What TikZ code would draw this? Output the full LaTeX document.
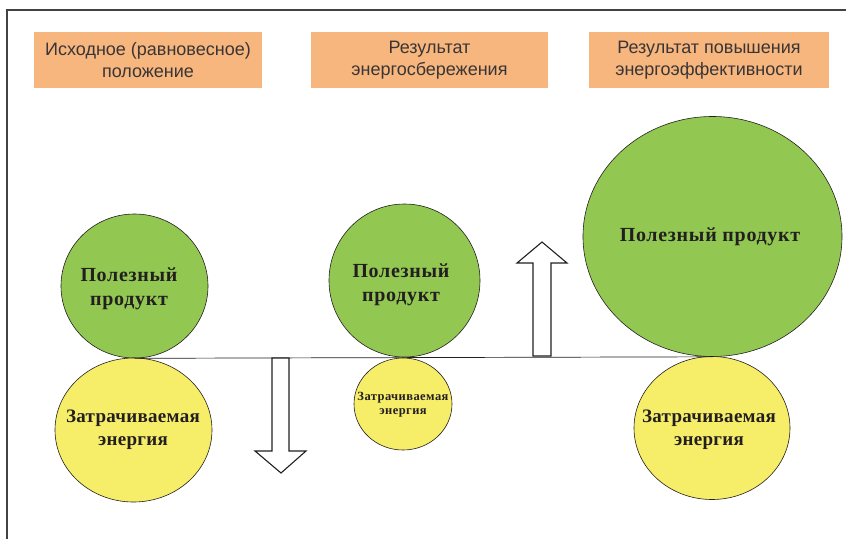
\documentclass[tikz,border=0pt]{standalone}
\usepackage{fontspec}
\setmainfont{Liberation Serif}
\newfontfamily\headfont{Liberation Sans}
\newfontfamily\blobwide[LetterSpace=3.5]{Liberation Serif}
\newfontfamily\blobnarrow[LetterSpace=1.5]{Liberation Serif}
\usetikzlibrary{shapes.geometric}
\definecolor{boxorange}{RGB}{247,182,125}
\definecolor{prodgreen}{RGB}{146,200,82}
\definecolor{enyellow}{RGB}{246,237,104}
\definecolor{inkgray}{RGB}{35,31,32}

\begin{document}
\begin{tikzpicture}[x=1pt, y=-1pt,
	headbox/.style={fill=boxorange, draw=none, minimum width=#1, minimum height=56pt, inner sep=0pt, align=center, text=inkgray!90, font=\headfont\fontsize{18}{22.5}\selectfont},
	blob/.style={ellipse, draw=inkgray, line width=0.6pt, inner sep=0pt},
	ptext/.style={align=center, inner sep=0pt, text=inkgray, font=\blobwide\bfseries\fontsize{20}{24}\selectfont},
	etext/.style={align=center, inner sep=0pt, text=inkgray, font=\blobnarrow\bfseries\fontsize{19}{23}\selectfont},
	arrowbox/.style={draw=inkgray, fill=white, line width=1.1pt, line join=miter}]
			%%%%% START %%%%%
			\useasboundingbox (0,0) rectangle (846,539);
			
			\draw[line width=1.6pt, draw=inkgray!85] (7,539) -- (7,10) -- (846,10);
			
			\node[headbox=228pt] (h1) at (148,60) {Исходное (равновесное)\\положение};
			\node[headbox=237pt] (h2) at (429.5,60) {Результат\\энергосбережения};
			\node[headbox=240pt] (h3) at (709,60) {Результат повышения\\энергоэффективности};
			
			\node[blob, fill=prodgreen, minimum width=147pt, minimum height=144pt] (p1) at (134.5,286) {};
			\node[blob, fill=enyellow, minimum width=157pt, minimum height=144pt] (e1) at (133.5,430) {};
			\node[blob, fill=prodgreen, minimum width=151pt, minimum height=153pt] (p2) at (404.5,280.5) {};
			\node[blob, fill=enyellow, minimum width=98pt, minimum height=92pt] (e2) at (403,404) {};
			\node[blob, fill=prodgreen, minimum width=259pt, minimum height=240pt] (p3) at (712.5,236.5) {};
			\node[blob, fill=enyellow, minimum width=156pt, minimum height=143pt] (e3) at (712,428) {};
			
			\node[ptext] (tp1) at (129,289) {Полезный\\продукт};
			\node[etext] (te1) at (133,430) {Затрачиваемая\\энергия};
			\node[ptext] (tp2) at (401,285) {Полезный\\продукт};
			\node[etext, font=\blobwide\bfseries\fontsize{12.5}{14}\selectfont] (te2) at (403,405) {Затрачиваемая\\энергия};
			\node[ptext] (tp3) at (710,237) {Полезный продукт};
			\node[etext] (te3) at (709,430) {Затрачиваемая\\энергия};
			
			\draw[line width=0.7pt, draw=inkgray] (p1.south) -- (p3.south);
			
			\draw[arrowbox] (272,358) -- (272,451) -- (255,451) -- (281,473) -- (306,451) -- (289,451) -- (289,358) -- cycle;
			\draw[arrowbox] (533,356) -- (533,263) -- (517,263) -- (542,242) -- (567,263) -- (551,263) -- (551,356) -- cycle;
			
			%%%%% END %%%%%
\end{tikzpicture}
\end{document}
